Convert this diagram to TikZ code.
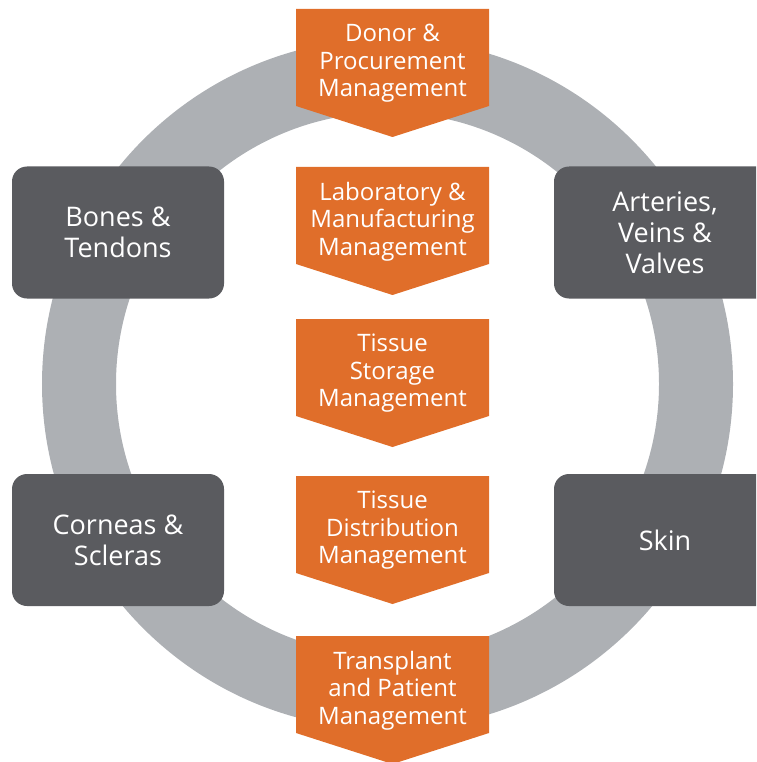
\documentclass[tikz,border=0pt]{standalone}
\usepackage{fontspec}
\setmainfont{Open Sans}
\usepackage{tikz}
\usetikzlibrary{positioning}

\definecolor{naranja}{HTML}{E06E2A}
\definecolor{grisoscuro}{HTML}{5A5B5F}
\definecolor{grisanillo}{HTML}{ADB0B4}

\tikzset{
	etapa/.style={text=white, align=center, inner sep=0pt, font=\fontsize{24}{27.5}\selectfont},
	tejido/.style={fill=grisoscuro, rounded corners=15pt, text=white, align=center,
		minimum width=212pt, minimum height=132pt, font=\fontsize{27}{31}\selectfont},
}

\begin{document}
\begin{tikzpicture}[x=1pt,y=-1pt]
		% marco de la figura
		\clip (0,0) rectangle (756,762);
		
		% anillo gris de fondo
		\draw[grisanillo, line width=74pt] (387.5,384) circle [radius=308.5pt];
		
		% flechas naranjas con las etapas, de arriba a abajo
		\foreach \t/\nombre/\texto in {
			9/donante/{Donor \&\\Procurement\\Management},
			167/laboratorio/{Laboratory \&\\Manufacturing\\Management},
			319/almacen/{Tissue\\Storage\\Management},
			476/distribucion/{Tissue\\Distribution\\Management},
			636/trasplante/{Transplant\\and Patient\\Management}} {
				% dibuja la flecha
				\fill[naranja] (296,\t) -- (489,\t) -- (489,\t+97) -- (392.5,\t+128)
					-- (296,\t+97) -- cycle;
				
				% coloca el texto en la parte rectangular
				\node[etapa] (\nombre) at (392.5,\t+54.5) {\texto};
			}
		
		% cajas grises con los tejidos
		\node[tejido] (huesos) at (118,232.5) {Bones \&\\Tendons};
		\node[tejido, minimum width=222pt] (arterias) at (665,232.5) {Arteries,\\Veins \&\\Valves};
		\node[tejido] (corneas) at (118,540) {Corneas \&\\Scleras};
		\node[tejido, minimum width=222pt] (piel) at (665,540) {Skin};
	\end{tikzpicture}
\end{document}
